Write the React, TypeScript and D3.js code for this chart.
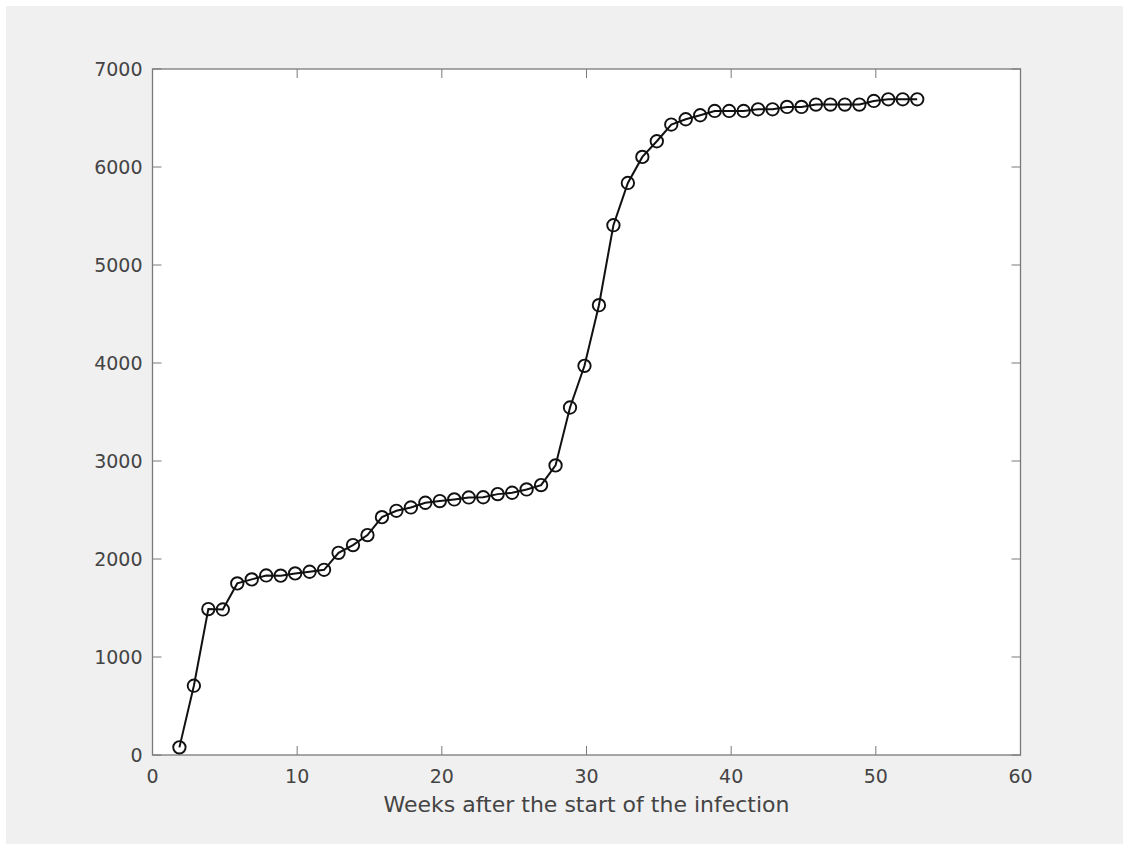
import React from "react";
import * as d3 from "d3";

const weeks: number[] = [
  1.86, 2.86, 3.86, 4.86, 5.86, 6.86, 7.86, 8.86, 9.86, 10.86,
  11.86, 12.86, 13.86, 14.86, 15.86, 16.86, 17.86, 18.86, 19.86, 20.86,
  21.86, 22.86, 23.86, 24.86, 25.86, 26.86, 27.86, 28.86, 29.86, 30.86,
  31.86, 32.86, 33.86, 34.86, 35.86, 36.86, 37.86, 38.86, 39.86, 40.86,
  41.86, 42.86, 43.86, 44.86, 45.86, 46.86, 47.86, 48.86, 49.86, 50.86,
  51.86, 52.86,
];

const cases: number[] = [
  78, 707, 1489, 1485, 1751, 1792, 1832, 1830, 1853, 1870,
  1890, 2063, 2142, 2244, 2427, 2492, 2526, 2574, 2591, 2608,
  2628, 2630, 2662, 2676, 2710, 2754, 2955, 3546, 3971, 4590,
  5406, 5837, 6103, 6263, 6433, 6487, 6528, 6572, 6572, 6572,
  6589, 6589, 6613, 6613, 6637, 6637, 6637, 6637, 6674, 6691,
  6691, 6691,
];

const xTicks: number[] = [0, 10, 20, 30, 40, 50, 60];
const yTicks: number[] = [0, 1000, 2000, 3000, 4000, 5000, 6000, 7000];
const xLabel = "Weeks after the start of the infection";

const W = 1123;
const H = 844;
const plot = { left: 152.5, right: 1020.5, top: 69, bottom: 755 };

export default function App() {
  const x = d3.scaleLinear().domain([0, 60]).range([plot.left, plot.right]);
  const y = d3.scaleLinear().domain([0, 7000]).range([plot.bottom, plot.top]);
  const pts = weeks.map((w, i) => [w, cases[i]] as [number, number]);
  const line = d3
    .line<[number, number]>()
    .x((d) => x(d[0]))
    .y((d) => y(d[1]));
  const axisColor = "#7a7a7a";
  const textColor = "#444444";
  const tickLen = 9;
  const font = "'DejaVu Sans', sans-serif";
  const fs = 19;
  const fsLabel = 22;

  return (
    <svg
      width={W}
      height={H}
      style={{ position: "absolute", left: 0, top: 0, display: "block" }}
    >
      <rect x={0} y={0} width={W} height={H} fill="#ffffff" />
      <rect x={6} y={6} width={W - 6} height={H - 6} fill="#f0f0f0" />
      <rect
        x={plot.left}
        y={plot.top}
        width={plot.right - plot.left}
        height={plot.bottom - plot.top}
        fill="#ffffff"
      />
      {xTicks.map((t) => (
        <g key={"xt" + t}>
          <line x1={x(t)} x2={x(t)} y1={plot.bottom} y2={plot.bottom - tickLen} stroke={axisColor} strokeWidth={1} />
          <line x1={x(t)} x2={x(t)} y1={plot.top} y2={plot.top + tickLen} stroke={axisColor} strokeWidth={1} />
          <text
            x={x(t)}
            y={plot.bottom + 28}
            textAnchor="middle"
            fontFamily={font}
            fontSize={fs}
            fill={textColor}
          >
            {t}
          </text>
        </g>
      ))}
      {yTicks.map((t) => (
        <g key={"yt" + t}>
          <line x1={plot.left} x2={plot.left + tickLen} y1={y(t)} y2={y(t)} stroke={axisColor} strokeWidth={1} />
          <line x1={plot.right} x2={plot.right - tickLen} y1={y(t)} y2={y(t)} stroke={axisColor} strokeWidth={1} />
          <text
            x={plot.left - 10}
            y={y(t)}
            dy="0.36em"
            textAnchor="end"
            fontFamily={font}
            fontSize={fs}
            fill={textColor}
          >
            {t}
          </text>
        </g>
      ))}
      <rect
        x={plot.left}
        y={plot.top}
        width={plot.right - plot.left}
        height={plot.bottom - plot.top}
        fill="none"
        stroke={axisColor}
        strokeWidth={1.3}
      />
      <path d={line(pts) || ""} fill="none" stroke="#111" strokeWidth={2} />
      {pts.map((p, i) => (
        <circle
          key={i}
          cx={x(p[0])}
          cy={y(p[1])}
          r={6.2}
          fill="none"
          stroke="#111"
          strokeWidth={1.9}
        />
      ))}
      <text
        x={(plot.left + plot.right) / 2}
        y={812}
        textAnchor="middle"
        fontFamily={font}
        fontSize={fsLabel}
        fill={textColor}
      >
        {xLabel}
      </text>
    </svg>
  );
}
